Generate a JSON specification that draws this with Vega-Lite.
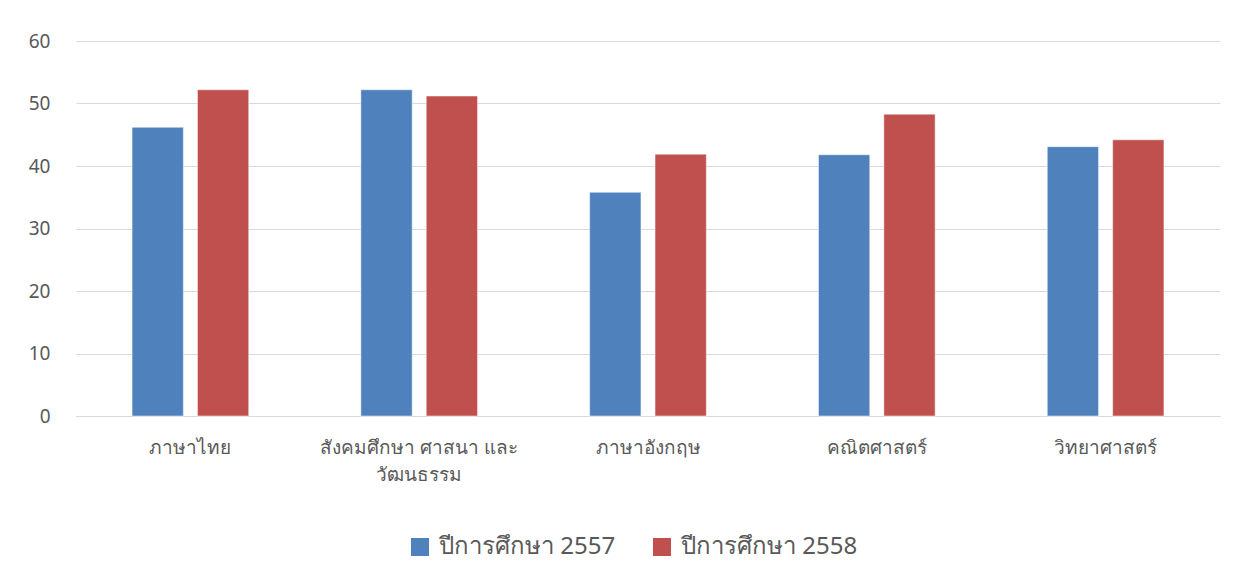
{
  "$schema": "https://vega.github.io/schema/vega-lite/v6.json",
  "width": 1144,
  "height": 375,
  "autosize": {"type": "none"},
  "padding": {"left": 76, "top": 41, "right": 34, "bottom": 167},
  "background": "white",
  "data": {
    "values": [
      {"subject": "ภาษาไทย", "year": "ปีการศึกษา 2557", "score": 46.2},
      {"subject": "ภาษาไทย", "year": "ปีการศึกษา 2558", "score": 52.2},
      {"subject": "สังคมศึกษา ศาสนา และวัฒนธรรม", "year": "ปีการศึกษา 2557", "score": 52.2},
      {"subject": "สังคมศึกษา ศาสนา และวัฒนธรรม", "year": "ปีการศึกษา 2558", "score": 51.2},
      {"subject": "ภาษาอังกฤษ", "year": "ปีการศึกษา 2557", "score": 35.8},
      {"subject": "ภาษาอังกฤษ", "year": "ปีการศึกษา 2558", "score": 41.9},
      {"subject": "คณิตศาสตร์", "year": "ปีการศึกษา 2557", "score": 41.8},
      {"subject": "คณิตศาสตร์", "year": "ปีการศึกษา 2558", "score": 48.3},
      {"subject": "วิทยาศาสตร์", "year": "ปีการศึกษา 2557", "score": 43.1},
      {"subject": "วิทยาศาสตร์", "year": "ปีการศึกษา 2558", "score": 44.2}
    ]
  },
  "mark": {"type": "bar", "stroke": "white", "strokeOpacity": 0.5, "strokeWidth": 1},
  "encoding": {
    "x": {
      "field": "subject",
      "type": "nominal",
      "sort": null,
      "scale": {"paddingInner": 0.49, "paddingOuter": 0.245},
      "axis": {
        "title": null,
        "labelAngle": 0,
        "labelFontSize": 19,
        "labelColor": "#595959",
        "labelPadding": 22,
        "labelLineHeight": 27,
        "labelLimit": 400,
        "labelExpr": "datum.label == 'สังคมศึกษา ศาสนา และวัฒนธรรม' ? ['สังคมศึกษา ศาสนา และ', 'วัฒนธรรม'] : datum.label",
        "ticks": false,
        "domainColor": "#D9D9D9",
        "domainWidth": 1
      }
    },
    "xOffset": {
      "field": "year",
      "type": "nominal",
      "scale": {"paddingInner": 0.215, "paddingOuter": 0}
    },
    "y": {
      "field": "score",
      "type": "quantitative",
      "scale": {"domain": [0, 60], "nice": false},
      "axis": {
        "title": null,
        "values": [0, 10, 20, 30, 40, 50, 60],
        "labelFontSize": 19,
        "labelColor": "#595959",
        "labelPadding": 26,
        "ticks": false,
        "domain": false,
        "gridColor": "#D9D9D9",
        "gridWidth": 1
      }
    },
    "color": {
      "field": "year",
      "type": "nominal",
      "scale": {"range": ["#4F81BD", "#C0504D"]},
      "legend": {
        "title": null,
        "orient": "none",
        "legendX": 332,
        "legendY": 494,
        "direction": "horizontal",
        "symbolType": "square",
        "symbolSize": 324,
        "symbolStrokeWidth": 0,
        "labelFontSize": 24,
        "labelColor": "#595959",
        "labelOffset": 7,
        "columnPadding": 34,
        "labelLimit": 300
      }
    }
  },
  "config": {
    "font": "Noto Sans",
    "view": {"stroke": null}
  }
}
